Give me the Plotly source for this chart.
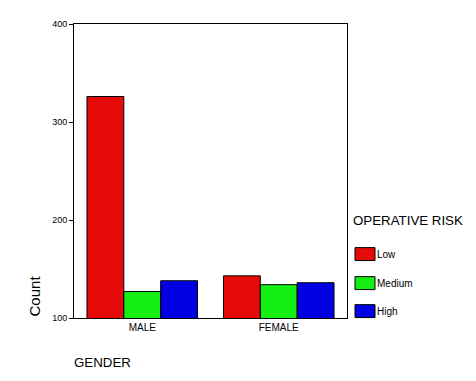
import plotly.graph_objects as go

categories = ["MALE", "FEMALE"]
risk_levels = ["Low", "Medium", "High"]
low_counts = [326, 143]
medium_counts = [127, 134]
high_counts = [138, 136]
y_ticks = [100, 200, 300, 400]

colors = {"Low": "#E60B0B", "Medium": "#14F014", "High": "#0000E3"}
series = {"Low": low_counts, "Medium": medium_counts, "High": high_counts}

fig = go.Figure()
for lvl in risk_levels:
    fig.add_trace(go.Bar(
        x=categories, y=series[lvl], name=lvl,
        marker=dict(color=colors[lvl], line=dict(color="black", width=1)),
        showlegend=False,
    ))

# page body has an 8px offset; size and margins compensate so nothing overflows
fig.update_layout(
    width=460, height=365,
    margin=dict(l=66, r=121, t=11, b=55),
    paper_bgcolor="white", plot_bgcolor="white",
    barmode="group", bargap=0.19, bargroupgap=0,
    font=dict(family="Liberation Sans, Arial, sans-serif", color="black"),
)
fig.update_yaxes(
    range=[100, 400], tickvals=y_ticks, showgrid=False, zeroline=False,
    showline=True, linecolor="black", linewidth=1, mirror=True,
    ticks="outside", ticklen=4, tickcolor="black", tickfont=dict(size=9),
)
fig.update_xaxes(
    showgrid=False, showline=True, linecolor="black", linewidth=1, mirror=True,
    ticks="", tickfont=dict(size=10),
)
fig.add_annotation(text="Count", xref="paper", yref="paper", x=-0.143, y=0.0,
                   textangle=-90, showarrow=False, font=dict(size=15),
                   xanchor="center", yanchor="bottom")
fig.add_annotation(text="GENDER", xref="paper", yref="paper", x=-0.008, y=-0.15,
                   showarrow=False, font=dict(size=13.3), xanchor="left", yanchor="middle")

# custom legend
fig.add_annotation(text="OPERATIVE RISK", xref="paper", yref="paper", x=1.015, y=0.331,
                   showarrow=False, font=dict(size=13.3), xanchor="left", yanchor="middle")
row_y = [0.2174, 0.1187, 0.0234]
half_h = 0.022
for lvl, yc in zip(risk_levels, row_y):
    fig.add_shape(type="rect", xref="paper", yref="paper",
                  x0=1.0293, x1=1.1026, y0=yc - half_h, y1=yc + half_h,
                  fillcolor=colors[lvl], line=dict(color="black", width=1))
    fig.add_annotation(text=lvl, xref="paper", yref="paper", x=1.103, y=yc,
                       showarrow=False, font=dict(size=10), xanchor="left", yanchor="middle")

fig.write_html("out.html")
